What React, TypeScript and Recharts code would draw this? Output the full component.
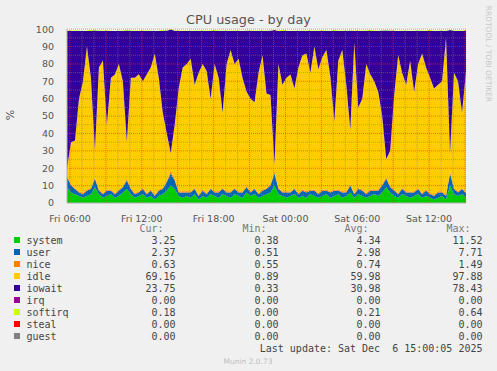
import { AreaChart, Area, XAxis, YAxis, ReferenceLine, CartesianGrid } from 'recharts';

// 20 minute samples from Fri 05:45 to Sat 15:05 (hours since Fri 00:00)
const START_HOUR = 5.75;
const STEP_HOURS = 1 / 3;

const system = [
  9, 6, 5, 4, 3, 4, 5, 9, 5, 3,
  4, 5, 3, 4, 6, 8, 5, 3, 4, 5,
  3, 4, 2, 4, 5, 7, 10, 8, 4, 3,
  4, 3, 5, 2, 4, 3, 5, 4, 3, 5,
  4, 3, 5, 4, 3, 6, 4, 5, 3, 4,
  5, 6, 10, 5, 4, 3, 4, 5, 3, 4,
  3, 5, 4, 3, 4, 5, 3, 4, 5, 3,
  4, 6, 3, 5, 4, 3, 4, 5, 4, 6,
  9, 6, 4, 3, 5, 4, 3, 4, 5, 3,
  4, 3, 2, 3, 4, 2, 10, 5, 4, 5, 3.25,
];
const user = [
  6, 4, 3, 2, 2, 3, 3, 5, 2, 2,
  3, 2, 2, 3, 3, 5, 3, 2, 2, 3,
  2, 3, 2, 3, 3, 5, 7, 5, 2, 3,
  2, 3, 3, 2, 3, 2, 3, 2, 3, 3,
  2, 3, 3, 2, 3, 3, 2, 3, 2, 3,
  3, 4, 7, 3, 2, 3, 2, 3, 2, 3,
  3, 2, 3, 2, 3, 2, 3, 3, 2, 3,
  2, 4, 2, 3, 3, 2, 3, 2, 3, 4,
  5, 3, 3, 2, 3, 2, 3, 2, 3, 2,
  3, 2, 2, 3, 2, 2, 7, 3, 2, 3, 2.37,
];
const nice = [
  0.7, 0.7, 0.7, 0.7, 0.6, 0.7, 0.7, 1.0, 0.7, 0.7,
  0.7, 0.7, 0.6, 0.7, 0.7, 0.9, 0.7, 0.7, 0.7, 0.7,
  0.7, 0.7, 0.6, 0.7, 0.7, 0.8, 1.5, 0.8, 0.7, 0.7,
  0.7, 0.7, 0.7, 0.6, 0.7, 0.7, 0.7, 0.7, 0.7, 0.7,
  0.7, 0.7, 0.7, 0.7, 0.6, 0.8, 0.7, 0.7, 0.7, 0.7,
  0.7, 0.8, 1.2, 0.7, 0.7, 0.7, 0.6, 0.7, 0.7, 0.7,
  0.7, 0.7, 0.7, 0.7, 0.7, 0.7, 0.6, 0.7, 0.7, 0.7,
  0.7, 0.8, 0.7, 0.7, 0.7, 0.7, 0.7, 0.7, 0.7, 0.8,
  1.0, 0.8, 0.7, 0.7, 0.7, 0.7, 0.6, 0.7, 0.7, 0.7,
  0.7, 0.7, 0.6, 0.7, 0.7, 0.7, 1.2, 0.7, 0.7, 0.7, 0.63,
];
const idle = [
  4.3, 24.3, 27.3, 53.3, 64.3, 82.3, 63.3, 15.3, 70.3, 76.3,
  37.3, 64.3, 68.3, 72.3, 60.3, 21.3, 63.3, 66.3, 67.3, 61.3,
  68.3, 70.3, 81.3, 64.3, 43.3, 27.3, 10.3, 31.3, 59.3, 71.3,
  73.3, 76.3, 59.3, 70.3, 72.3, 70.3, 51.3, 73.3, 65.3, 43.3,
  73.3, 81.3, 71.3, 76.3, 65.3, 54.3, 53.3, 49.3, 69.3, 77.3,
  54.3, 51.3, 4.3, 71.3, 61.3, 65.3, 67.3, 57.3, 72.3, 77.3,
  79.3, 67.3, 82.3, 71.3, 76.3, 80.3, 66.3, 39.3, 74.3, 81.3,
  61.3, 31.3, 86.3, 46.3, 52.3, 74.3, 66.3, 62.3, 56.3, 39.3,
  10.3, 20.3, 54.3, 79.3, 66.3, 61.3, 75.3, 57.3, 71.3, 80.3,
  70.3, 66.3, 61.3, 61.3, 63.3, 90.3, 10.3, 66.3, 63.3, 43.3, 69.16,
];
const iowait = [
  79, 64, 63, 39, 29, 9, 27, 69, 21, 17,
  54, 27, 25, 19, 29, 64, 27, 27, 25, 29,
  25, 21, 13, 27, 47, 59, 71, 54, 33, 21,
  19, 16, 31, 24, 19, 23, 39, 19, 27, 47,
  19, 11, 19, 16, 27, 35, 39, 41, 24, 14,
  36, 37, 77, 19, 31, 27, 25, 33, 21, 14,
  13, 24, 9, 22, 15, 11, 26, 52, 17, 11,
  31, 57, 7, 44, 39, 19, 25, 29, 35, 49,
  74, 69, 37, 14, 24, 31, 17, 35, 19, 13,
  21, 27, 33, 31, 29, 4, 71, 24, 29, 47, 23.75,
];
const softirq = [
  0.2, 0.3, 0.2, 0.2, 0.1, 0.2, 0.6, 0.2, 0.2, 0.3,
  0.2, 0.2, 0.1, 0.2, 0.2, 0.4, 0.2, 0.2, 0.3, 0.2,
  0.2, 0.2, 0.1, 0.2, 0.5, 0.2, 0.3, 0.2, 0.2, 0.2,
  0.2, 0.1, 0.2, 0.3, 0.2, 0.2, 0.2, 0.6, 0.2, 0.2,
  0.2, 0.2, 0.3, 0.2, 0.2, 0.1, 0.2, 0.2, 0.2, 0.3,
  0.2, 0.2, 0.2, 0.2, 0.6, 0.2, 0.2, 0.2, 0.1, 0.2,
  0.2, 0.3, 0.2, 0.2, 0.2, 0.2, 0.2, 0.5, 0.2, 0.2,
  0.2, 0.2, 0.2, 0.3, 0.2, 0.2, 0.6, 0.2, 0.2, 0.2,
  0.2, 0.2, 0.2, 0.1, 0.2, 0.2, 0.2, 0.3, 0.2, 0.2,
  0.2, 0.6, 0.2, 0.2, 0.2, 0.2, 0.2, 0.2, 0.3, 0.2, 0.18,
];

const yTicks = [0, 10, 20, 30, 40, 50, 60, 70, 80, 90, 100];
const yMinor = [5, 15, 25, 35, 45, 55, 65, 75, 85, 95];
const xTicks = [6, 12, 18, 24, 30, 36];
const xMajor = [6, 9, 12, 15, 18, 21, 24, 27, 30, 33, 36, 39];
const xMinor = [7, 8, 10, 11, 13, 14, 16, 17, 19, 20, 22, 23, 25, 26, 28, 29, 31, 32, 34, 35, 37, 38];

const legendNames = ['system', 'user', 'nice', 'idle', 'iowait', 'irq', 'softirq', 'steal', 'guest'];
const legendColors = ['#00CC00', '#0066B3', '#FF8000', '#FFCC00', '#330099', '#990099', '#CCFF00', '#FF0000', '#808080'];
const curValues = [3.25, 2.37, 0.63, 69.16, 23.75, 0.0, 0.18, 0.0, 0.0];
const minValues = [0.38, 0.51, 0.55, 0.89, 0.33, 0.0, 0.0, 0.0, 0.0];
const avgValues = [4.34, 2.98, 0.74, 59.98, 30.98, 0.0, 0.21, 0.0, 0.0];
const maxValues = [11.52, 7.71, 1.49, 97.88, 78.43, 0.0, 0.64, 0.0, 0.0];

const data = system.map((s, i) => ({
  t: START_HOUR + i * STEP_HOURS,
  system: s,
  user: user[i],
  nice: nice[i],
  idle: idle[i],
  iowait: iowait[i],
  softirq: softirq[i],
}));

const stackKeys = ['system', 'user', 'nice', 'idle', 'iowait', 'softirq'];
const stackColors = ['#00CC00', '#0066B3', '#FF8000', '#FFCC00', '#330099', '#CCFF00'];

const fmtHour = (h: number) => {
  const day = h < 24 ? 'Fri' : 'Sat';
  const hh = String(h % 24).padStart(2, '0');
  return `${day} ${hh}:00`;
};

const sans = '"DejaVu Sans", sans-serif';
const mono = '"DejaVu Sans Mono", monospace';
const colRight = [175.5, 278.5, 380.5, 482.5];
const headRight = [163.5, 266.5, 368.5, 470.5];

export default function App() {
  const tMax = START_HOUR + (system.length - 1) * STEP_HOURS;
  return (
    <div style={{ position: 'absolute', left: 0, top: 0, width: 497, height: 371, background: '#f0f0f0', overflow: 'hidden' }}>
      <AreaChart
        width={497}
        height={230}
        data={data}
        margin={{ top: 29, right: 31, left: 27, bottom: 7 }}
        style={{ position: 'absolute', left: 0, top: 0 }}
      >
        <CartesianGrid fill="#ffffff" horizontal={false} vertical={false} />
        <XAxis
          dataKey="t"
          type="number"
          domain={[START_HOUR, tMax]}
          ticks={xTicks}
          tickFormatter={fmtHour}
          tickLine={false}
          axisLine={{ stroke: '#b0b0b0' }}
          tickMargin={6}
          height={20}
          tick={{ fill: '#555', fontSize: 9.5, fontFamily: sans }}
        />
        <YAxis
          domain={[0, 100]}
          ticks={yTicks}
          width={40}
          tickLine={false}
          axisLine={{ stroke: '#b0b0b0' }}
          tickMargin={7}
          tick={{ fill: '#555', fontSize: 9.5, fontFamily: sans }}
        />
        {stackKeys.map((k, i) => (
          <Area
            key={k}
            dataKey={k}
            stackId="cpu"
            type="linear"
            stroke="none"
            fill={stackColors[i]}
            fillOpacity={1}
            isAnimationActive={false}
          />
        ))}
        {yMinor.map((v) => (
          <ReferenceLine key={`ym${v}`} y={v} stroke="rgba(130,130,130,0.55)" strokeDasharray="1 1" />
        ))}
        {xMinor.map((v) => (
          <ReferenceLine key={`xm${v}`} x={v} stroke="rgba(130,130,130,0.55)" strokeDasharray="1 1" />
        ))}
        {yTicks.slice(1).map((v) => (
          <ReferenceLine key={`yM${v}`} y={v} stroke="rgba(255,40,40,0.6)" strokeDasharray="1 1" />
        ))}
        {xMajor.map((v) => (
          <ReferenceLine key={`xM${v}`} x={v} stroke="rgba(255,40,40,0.6)" strokeDasharray="1 1" />
        ))}
      </AreaChart>
      <svg width={497} height={371} style={{ position: 'absolute', left: 0, top: 0, pointerEvents: 'none' }}>
        <text x={248.5} y={24} textAnchor="middle" fontFamily={sans} fontSize={12.8} fill="#555">
          CPU usage - by day
        </text>
        <text x={14} y={115} textAnchor="middle" fontFamily={sans} fontSize={11} fill="#555" transform="rotate(-90 14 115)">
          %
        </text>
        <text x={486} y={54} textAnchor="middle" fontFamily={sans} fontSize={7.5} fill="#c8c8c8" transform="rotate(90 486 54)">
          RRDTOOL / TOBI OETIKER
        </text>
        {['Cur:', 'Min:', 'Avg:', 'Max:'].map((h, j) => (
          <text key={h} x={headRight[j]} y={231.5} textAnchor="end" fontFamily={mono} fontSize={10} fill="#777">
            {h}
          </text>
        ))}
        {legendNames.map((n, i) => {
          const cy = 240 + i * 12;
          const vals = [curValues[i], minValues[i], avgValues[i], maxValues[i]];
          return (
            <g key={n}>
              <rect x={14} y={cy - 3} width={6} height={6} fill={legendColors[i]} />
              <text x={26.5} y={cy + 3.5} fontFamily={mono} fontSize={10} fill="#444">
                {n}
              </text>
              {vals.map((v, j) => (
                <text key={j} x={colRight[j]} y={cy + 3.5} textAnchor="end" fontFamily={mono} fontSize={10} fill="#444">
                  {v.toFixed(2)}
                </text>
              ))}
            </g>
          );
        })}
        <text x={482.5} y={351.5} textAnchor="end" fontFamily={mono} fontSize={10} fill="#444" xmlSpace="preserve">
          Last update: Sat Dec  6 15:00:05 2025
        </text>
        <text x={248} y={364} textAnchor="middle" fontFamily={sans} fontSize={7.5} fill="#bdbdbd">
          Munin 2.0.73
        </text>
      </svg>
    </div>
  );
}
